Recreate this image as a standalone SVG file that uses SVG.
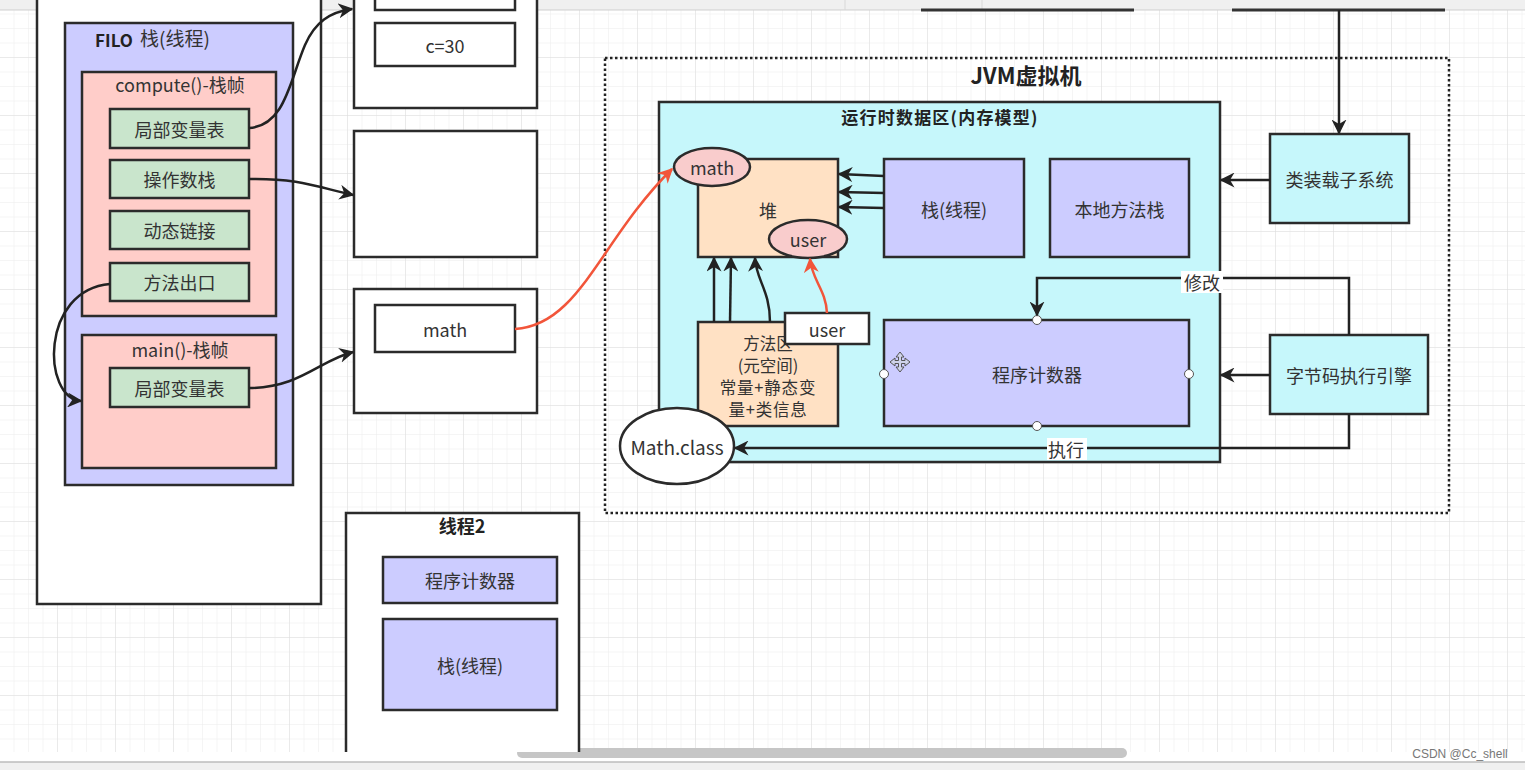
<svg xmlns="http://www.w3.org/2000/svg" width="1525" height="770" viewBox="0 0 1525 770">
<defs>
<pattern id="grid" width="14.5" height="14.5" patternUnits="userSpaceOnUse">
<path d="M14.5 0V14.5H0" fill="none" stroke="#ececec" stroke-width="1"/>
</pattern>
<pattern id="gridMajor" width="58" height="58" patternUnits="userSpaceOnUse">
<path d="M58 0V58H0" fill="none" stroke="#dedede" stroke-width="1"/>
</pattern>
<marker id="ahb" viewBox="0 0 10 10" refX="9" refY="5" markerWidth="15" markerHeight="15" orient="auto" markerUnits="userSpaceOnUse">
<path d="M0,0 L10,5 L0,10 L3,5 Z" fill="#222"/>
</marker>
<marker id="ahr" viewBox="0 0 10 10" refX="9" refY="5" markerWidth="15" markerHeight="15" orient="auto" markerUnits="userSpaceOnUse">
<path d="M0,0 L10,5 L0,10 L3,5 Z" fill="#f2553a"/>
</marker>
</defs>
<style>
.b{stroke:#2b2b2b;stroke-width:2.5}
.w{fill:#fff}
.lav{fill:#ccccff}
.pink{fill:#ffcdc9}
.grn{fill:#c9e5cc}
.peach{fill:#ffe1c4}
.cyan{fill:#c6f7fb}
.ell{fill:#f9cccc}
text{font-family:"Noto Sans CJK SC","Noto Sans",sans-serif;fill:#333;text-anchor:middle;dominant-baseline:central}
.t16{font-size:18px}
.t17{font-size:18px}
.bold{font-weight:bold;fill:#222}
.conn{fill:none;stroke:#222;stroke-width:2.5}
.red{fill:none;stroke:#f2553a;stroke-width:2.5}
.cp{fill:#fff;stroke:#555;stroke-width:1}
</style>
<rect width="1525" height="770" fill="#fff"/>
<rect x="0" y="10" width="1525" height="742" fill="url(#grid)"/>
<rect x="0" y="10" width="1525" height="742" fill="url(#gridMajor)"/>
<!-- top bar -->
<rect x="0" y="0" width="1525" height="10" fill="#f0f0f0"/>
<line x1="0" y1="10" x2="1525" y2="10" stroke="#cfcfcf" stroke-width="1"/>
<line x1="463" y1="0" x2="463" y2="10" stroke="#d8d8d8"/>
<line x1="845" y1="0" x2="845" y2="10" stroke="#d8d8d8"/>
<line x1="982" y1="0" x2="982" y2="10" stroke="#d8d8d8"/>
<!-- bottom bar -->
<rect x="0" y="762" width="1525" height="8" fill="#f0f0f0"/>
<line x1="0" y1="762" x2="1525" y2="762" stroke="#bdbdbd" stroke-width="1.5"/>
<rect x="517" y="748" width="610" height="10" rx="5" fill="#c6c6c6"/>

<g id="thread1">
<rect x="37" y="-5" width="284" height="609" class="b w"/>
</g>
<g id="stack">
<rect x="65" y="23" width="228" height="462" class="b lav"/>
<text x="114" y="39" class="bold" font-size="17">FILO</text>
<text x="175" y="37" font-size="19">栈(线程)</text>
</g>
<g id="computeFrame">
<rect x="82" y="72" width="194" height="244" class="b pink"/>
<text x="180" y="84" class="t16">compute()-栈帧</text>
</g>
<g id="localVars1"><rect x="110" y="109" width="139" height="39" class="b grn"/><text x="179.5" y="128.5" class="t17">局部变量表</text></g>
<g id="operandStack"><rect x="110" y="160" width="139" height="38" class="b grn"/><text x="179.5" y="179" class="t17">操作数栈</text></g>
<g id="dynLink"><rect x="110" y="211" width="139" height="38" class="b grn"/><text x="179.5" y="230" class="t17">动态链接</text></g>
<g id="methodExit"><rect x="110" y="263" width="139" height="38" class="b grn"/><text x="179.5" y="282" class="t17">方法出口</text></g>
<g id="mainFrame">
<rect x="82" y="335" width="194" height="133" class="b pink"/>
<text x="180" y="349" class="t16">main()-栈帧</text>
</g>
<g id="localVars2"><rect x="110" y="368" width="139" height="39" class="b grn"/><text x="179.5" y="387.5" class="t17">局部变量表</text></g>

<g id="heapObj1">
<rect x="354" y="-5" width="183" height="113" class="b w"/>
<rect x="375" y="-20" width="140" height="30" class="b w"/>
<rect x="375" y="23" width="140" height="43" class="b w"/>
<text x="445" y="44.5" class="t16">c=30</text>
</g>
<g id="heapObj2"><rect x="354" y="131" width="183" height="126" class="b w"/></g>
<g id="heapObj3">
<rect x="354" y="289" width="183" height="124" class="b w"/>
<rect x="375" y="305" width="140" height="47" class="b w"/>
<text x="445" y="328.5" class="t16">math</text>
</g>

<g id="jvm">
<rect x="605" y="58" width="844" height="455" fill="none" stroke="#222" stroke-width="2.5" stroke-dasharray="2.5,2.5"/>
<text x="1026" y="74" class="bold" font-size="22">JVM虚拟机</text>
</g>
<g id="runtimeArea">
<rect x="659" y="102" width="561" height="360" class="b cyan"/>
<text x="940" y="116" class="bold" font-size="17" letter-spacing="1.2">运行时数据区(内存模型)</text>
</g>
<g id="heap">
<rect x="698" y="159" width="140" height="98" class="b peach"/>
<text x="768" y="210" class="t16">堆</text>
</g>
<g id="mathObj"><ellipse cx="712" cy="167" rx="38" ry="19" class="b ell"/><text x="712" y="167" class="t17">math</text></g>
<g id="userObj"><ellipse cx="808" cy="239" rx="39" ry="19" class="b ell"/><text x="808" y="239" class="t17">user</text></g>
<g id="stackThread"><rect x="884" y="159" width="140" height="98" class="b lav"/><text x="954" y="209" class="t16">栈(线程)</text></g>
<g id="nativeStack"><rect x="1050" y="159" width="139" height="98" class="b lav"/><text x="1119.5" y="209" class="t16">本地方法栈</text></g>
<g id="methodArea">
<rect x="698" y="322" width="140" height="104" class="b peach"/>
<text x="768" y="343" font-size="16.5">方法区</text>
<text x="768" y="365" font-size="16.5">(元空间)</text>
<text x="768" y="387" font-size="16.5" letter-spacing="0.8">常量+静态变</text>
<text x="768" y="409" font-size="16.5" letter-spacing="0.8">量+类信息</text>
</g>
<g id="userRef"><rect x="785" y="313" width="84" height="31" class="b w"/><text x="827" y="328.5" class="t17">user</text></g>
<g id="pc">
<rect x="884" y="320" width="305" height="106" class="b lav"/>
<text x="1037" y="374" class="t16">程序计数器</text>
<circle cx="1037" cy="320" r="4.5" class="cp"/>
<circle cx="884" cy="374" r="4.5" class="cp"/>
<circle cx="1189" cy="374" r="4.5" class="cp"/>
<circle cx="1037" cy="426" r="4.5" class="cp"/>
<g transform="translate(900,362)" fill="#cfd3ea" stroke="#555" stroke-width="1">
<path d="M0,-10 L4,-5 L1.5,-5 L1.5,-1.5 L5,-1.5 L5,-4 L10,0 L5,4 L5,1.5 L1.5,1.5 L1.5,5 L4,5 L0,10 L-4,5 L-1.5,5 L-1.5,1.5 L-5,1.5 L-5,4 L-10,0 L-5,-4 L-5,-1.5 L-1.5,-1.5 L-1.5,-5 L-4,-5 Z"/>
</g>
</g>
<g id="mathClass"><ellipse cx="677" cy="446" rx="57" ry="38" class="b w"/><text x="677" y="446" font-size="19">Math.class</text></g>
<g id="classLoader"><rect x="1270" y="134" width="139" height="89" class="b cyan"/><text x="1339.5" y="179" class="t16">类装载子系统</text></g>
<g id="execEngine"><rect x="1270" y="335" width="158" height="79" class="b cyan"/><text x="1349" y="375" class="t16">字节码执行引擎</text></g>

<g id="thread2">
<path d="M346,752 V513 H579 V752" class="b" fill="#fff"/>
<text x="462" y="525" class="bold" font-size="18">线程2</text>
<rect x="383" y="557" width="174" height="46" class="b lav"/>
<text x="470" y="580" class="t16">程序计数器</text>
<rect x="383" y="619" width="174" height="91" class="b lav"/>
<text x="470" y="664.5" class="t16">栈(线程)</text>
</g>

<g id="topEdges">
<line x1="921" y1="10" x2="1134" y2="10" stroke="#333" stroke-width="3"/>
<line x1="1232" y1="10" x2="1445" y2="10" stroke="#333" stroke-width="3"/>
</g>

<g id="connectors">
<path d="M249,128 C285,126 290,80 305,45 C315,22 330,12 352,9" class="conn" marker-end="url(#ahb)"/>
<path d="M249,179 C300,178 320,188 353,195" class="conn" marker-end="url(#ahb)"/>
<path d="M110,284 C40,290 42,398 81,401" class="conn" marker-end="url(#ahb)"/>
<path d="M249,388 C300,388 320,360 353,352" class="conn" marker-end="url(#ahb)"/>
<path d="M515,329 C580,325 600,240 672,169" class="red" marker-end="url(#ahr)"/>
<line x1="884" y1="176" x2="839" y2="174" class="conn" marker-end="url(#ahb)"/>
<line x1="884" y1="193" x2="839" y2="192" class="conn" marker-end="url(#ahb)"/>
<line x1="884" y1="208" x2="839" y2="207" class="conn" marker-end="url(#ahb)"/>
<line x1="714" y1="322" x2="714" y2="258" class="conn" marker-end="url(#ahb)"/>
<line x1="730" y1="322" x2="731" y2="258" class="conn" marker-end="url(#ahb)"/>
<path d="M770,322 C770,290 756,280 755,258" class="conn" marker-end="url(#ahb)"/>
<path d="M827,313 C826,290 812,280 810,259" class="red" marker-end="url(#ahr)"/>
<line x1="1339" y1="10" x2="1339" y2="133" class="conn" marker-end="url(#ahb)"/>
<line x1="1270" y1="180" x2="1221" y2="180" class="conn" marker-end="url(#ahb)"/>
<line x1="1270" y1="375" x2="1221" y2="375" class="conn" marker-end="url(#ahb)"/>
<path d="M1349,335 V278 H1037 V315" class="conn" marker-end="url(#ahb)"/>
<rect x="1181" y="271" width="42" height="22" fill="#fff"/>
<text x="1202" y="282" class="t16">修改</text>
<path d="M1349,414 V448 H735" class="conn" marker-end="url(#ahb)"/>
<rect x="1047" y="438" width="40" height="22" fill="#fff"/>
<text x="1066" y="449" class="t16">执行</text>
</g>

<text x="1460" y="754" font-size="12" style="fill:#777;font-family:'Liberation Sans',sans-serif">CSDN @Cc_shell</text>
</svg>
